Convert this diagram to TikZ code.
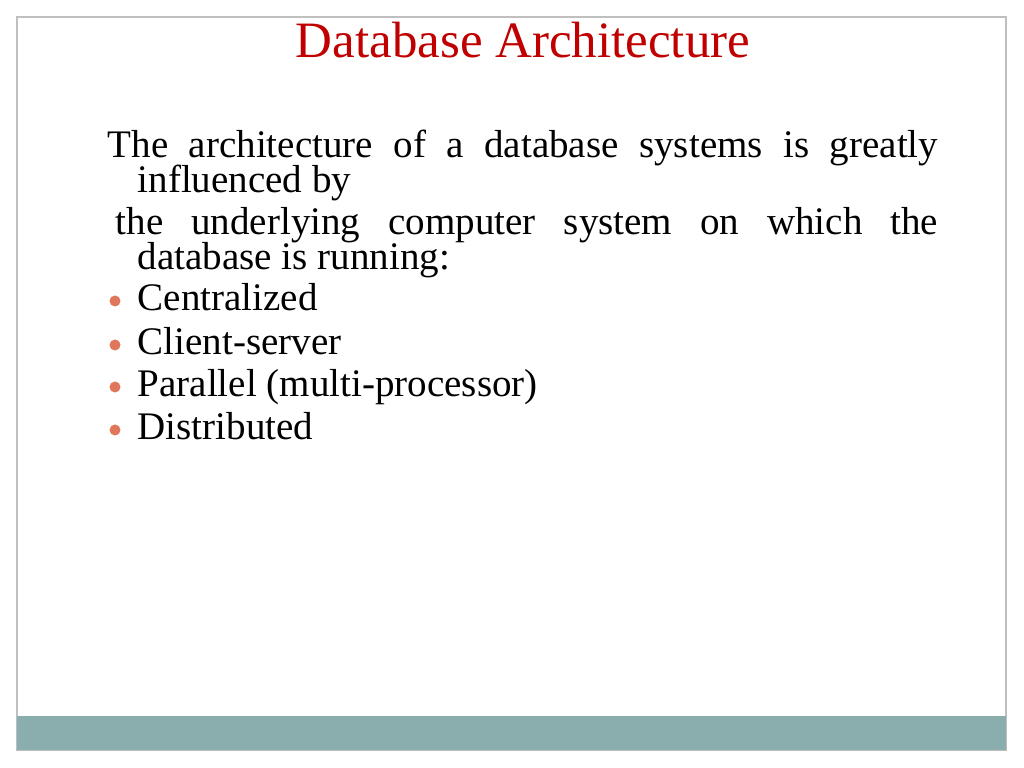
\documentclass[tikz,border=0pt]{standalone}
\usepackage{fontspec}
\setmainfont{Liberation Serif}
\definecolor{titlered}{HTML}{C00000}
\definecolor{barteal}{HTML}{8AADAD}
\definecolor{dotred}{HTML}{E0765A}
\tikzset{
  body/.style={anchor=base west,inner sep=0pt,font=\fontsize{11.1pt}{12pt}\selectfont},
  dot/.style={circle,fill=dotred,inner sep=0pt,minimum size=0.11cm}
}
\begin{document}
\begin{tikzpicture}[x=0.01cm,y=-0.01cm]
  \useasboundingbox (0,0) rectangle (1024,768);
  % frame and bar
  \draw[gray!50] (17,17) rectangle (1006,750);
  \fill[barteal] (17,716) rectangle (1006,750);
  % title
  \node[anchor=base,inner sep=0pt,text=titlered,font=\fontsize{14.5pt}{16pt}\selectfont] (title) at (523,58) {Database Architecture};
  % text
  \node[body] (l1) at (107,158) {\makebox[8.3cm][s]{The architecture of a database systems is greatly}};
  \node[body] (l2) at (137,193) {influenced by};
  \node[body] (l3) at (115,235) {\makebox[8.22cm][s]{the underlying computer system on which the}};
  \node[body] (l4) at (137,270) {database is running:};
  \foreach \y/\t/\n in {311/Centralized/a,355/Client-server/b,397/Parallel (multi-processor)/c,440/Distributed/d}{
    \node[body] (item\n) at (137,\y) {\t};
    \node[dot] (dot\n) at (115,\y-10) {};
  }
\end{tikzpicture}
\end{document}
